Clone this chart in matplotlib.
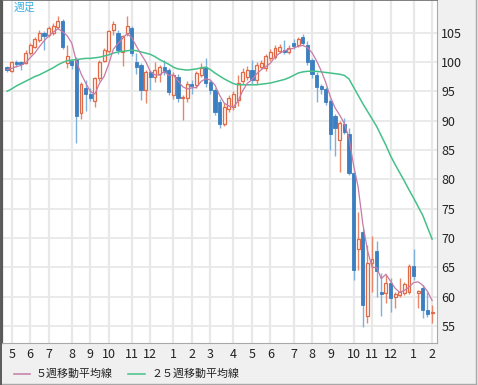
import matplotlib
matplotlib.use("Agg")
import matplotlib.pyplot as plt
from matplotlib.lines import Line2D
import numpy as np
import pandas as pd

plt.rcParams['font.family'] = ['Noto Sans CJK JP', 'DejaVu Sans']

# weekly candles, week index -1 .. 91 (week 0 = first week of May)
weeks = list(range(-1, 92))
opens = [99.1, 98.5, 100.0, 99.9, 99.8, 101.5, 102.6, 103.7, 105.0, 104.6,
         104.9, 106.0, 107.0, 99.8, 100.1, 100.5, 91.3, 95.6, 94.6, 93.4,
         97.2, 100.2, 101.8, 105.4, 104.9, 101.7, 104.9, 105.7, 100.0, 99.4,
         95.2, 98.3, 97.5, 97.9, 99.2, 98.7, 94.3, 97.5, 93.8, 93.8,
         96.2, 96.1, 97.8, 99.2, 96.6, 95.2, 93.2, 89.5, 92.0, 92.3,
         93.5, 96.7, 97.5, 98.6, 96.9, 99.1, 98.9, 100.6, 100.9, 101.9,
         102.1, 101.7, 103.2, 102.9, 104.2, 102.9, 100.3, 97.8, 95.9, 95.3,
         93.3, 90.8, 86.7, 89.4, 87.8, 81.0, 68.2, 71.0, 56.7, 65.7,
         67.8, 60.8, 60.6, 62.4, 60.0, 60.3, 60.7, 60.8, 65.2, 60.7,
         61.4, 57.8, 57.2]
highs = [99.3, 100.2, 100.4, 100.1, 102.0, 103.3, 104.2, 105.4, 105.3, 106.2,
         106.7, 107.8, 107.3, 102.9, 100.5, 100.8, 96.5, 97.0, 95.5, 97.5,
         100.3, 102.3, 105.5, 106.9, 105.5, 104.6, 107.9, 106.2, 101.5, 99.8,
         98.6, 98.7, 100.0, 99.4, 100.3, 99.0, 98.2, 98.0, 94.3, 96.8,
         97.0, 98.5, 99.8, 100.6, 97.0, 95.6, 93.6, 93.0, 94.3, 95.0,
         97.7, 98.9, 99.3, 100.4, 99.9, 100.3, 101.4, 102.2, 102.8, 103.0,
         103.7, 102.8, 103.9, 104.2, 104.8, 103.6, 100.6, 98.2, 96.3, 95.8,
         93.6, 91.2, 90.0, 90.4, 88.8, 81.2, 74.5, 71.5, 68.8, 70.3,
         69.4, 64.0, 63.7, 63.2, 60.8, 63.2, 62.5, 65.6, 68.2, 61.2,
         62.0, 60.8, 58.6]
lows = [98.3, 98.3, 99.2, 98.7, 99.6, 101.2, 102.3, 103.4, 102.1, 104.3,
        104.6, 105.6, 102.2, 98.9, 98.8, 86.1, 90.2, 91.7, 93.3, 92.3,
        96.8, 99.9, 101.5, 104.6, 101.4, 99.3, 104.5, 101.0, 98.0, 93.5,
        93.0, 95.2, 96.6, 96.6, 97.8, 94.3, 93.7, 93.2, 90.1, 93.2,
        94.5, 95.6, 97.5, 95.8, 94.6, 91.0, 88.8, 89.1, 91.5, 91.8,
        92.5, 96.3, 97.0, 96.2, 96.2, 98.8, 98.5, 100.1, 100.5, 101.5,
        101.3, 101.3, 102.2, 102.5, 102.9, 99.5, 97.3, 93.2, 94.5, 92.6,
        85.0, 84.0, 81.3, 87.8, 80.8, 62.8, 64.5, 54.9, 55.5, 60.8,
        60.0, 56.7, 59.0, 57.3, 58.0, 60.0, 60.3, 60.5, 62.8, 58.1,
        56.4, 56.6, 55.5]
closes = [98.6, 99.9, 99.6, 99.6, 101.6, 102.9, 103.9, 105.0, 104.5, 105.8,
          106.1, 106.9, 102.5, 101.0, 99.5, 90.8, 96.2, 94.6, 93.8, 97.2,
          100.0, 102.0, 105.2, 106.4, 102.0, 104.4, 106.2, 101.5, 99.2, 95.2,
          98.3, 97.5, 98.7, 99.1, 98.3, 94.9, 97.8, 93.8, 94.1, 96.3,
          95.9, 98.1, 99.0, 96.4, 95.2, 91.5, 89.5, 92.3, 93.9, 94.5,
          96.4, 98.3, 98.7, 96.9, 99.5, 99.8, 101.0, 101.7, 102.3, 102.6,
          101.7, 102.4, 102.7, 103.9, 103.3, 100.0, 98.0, 95.7, 95.3, 93.2,
          87.8, 88.8, 89.6, 88.1, 81.0, 64.5, 69.9, 58.5, 65.7, 66.4,
          64.3, 60.4, 62.3, 59.7, 60.4, 60.8, 62.1, 65.2, 63.5, 61.0,
          57.8, 57.0, 57.3]

# 5-week MA as read for the first weeks (earlier closes are off the chart)
ma5_head = [98.7, 98.9, 99.2, 99.4]
# 25-week MA, one value per week
ma25 = [95.0, 95.4, 95.9, 96.3, 96.7, 97.1, 97.5, 97.8, 98.2, 98.6,
        99.0, 99.5, 99.9, 100.2, 100.3, 100.4, 100.5, 100.6, 100.6, 100.7,
        100.8, 101.0, 101.2, 101.5, 101.7, 101.8, 101.9, 102.0, 101.9, 101.7,
        101.5, 101.3, 100.9, 100.4, 100.0, 99.6, 99.1, 98.8, 98.7, 98.6,
        98.7, 98.8, 99.0, 99.1, 98.7, 98.1, 97.6, 97.1, 96.7, 96.3,
        96.1, 96.1, 96.1, 96.1, 96.1, 96.2, 96.3, 96.4, 96.6, 96.8,
        97.0, 97.3, 97.7, 98.1, 98.3, 98.4, 98.4, 98.4, 98.3, 98.2,
        98.1, 98.0, 97.9, 97.7, 97.1, 95.7, 94.3, 92.9, 91.6, 90.3,
        89.0, 87.4, 85.8, 84.0, 82.5, 81.1, 79.7, 78.2, 76.8, 75.3,
        73.8, 71.8, 69.8]

month_weeks = [0, 4, 8, 13, 17, 21, 26, 30, 35, 39, 43, 48, 52, 56, 61, 65, 69, 74, 78, 82, 87, 91]
month_labels = ['5', '6', '7', '8', '9', '10', '11', '12', '1', '2', '3',
                '4', '5', '6', '7', '8', '9', '10', '11', '12', '1', '2']
price_ticks = [55, 60, 65, 70, 75, 80, 85, 90, 95, 100, 105]

df = pd.DataFrame({'w': weeks, 'o': opens, 'h': highs, 'l': lows, 'c': closes})
ma5 = df['c'].rolling(5).mean().to_numpy()
ma5[:len(ma5_head)] = ma5_head

W, H = 478, 385
fig = plt.figure(figsize=(W / 100, H / 100), dpi=100)
fig.patch.set_facecolor('#f0f0f0')

def fx(px):
    return px / W

def fy(py):
    return 1 - py / H

ax = fig.add_axes([fx(2), fy(343), fx(437) - fx(2), fy(0) - fy(343)])
ax.set_facecolor('white')
ax.set_xlim(-2.1, 92.06)
ax.set_ylim(52.1, 110.55)

for p in price_ticks:
    ax.axhline(p, color='#e8e8e8', lw=1.3, zorder=0)
for m in month_weeks:
    ax.axvline(m, color='#e8e8e8', lw=1.6, zorder=0)

up = df['c'] >= df['o']
red, red_wick = '#e06a48', '#e8866a'
blue, blue_wick = '#3b7fc0', '#7eb0dc'

ax.vlines(df['w'][up], df['l'][up], df['h'][up], color=red_wick, lw=1, zorder=2)
ax.vlines(df['w'][~up], df['l'][~up], df['h'][~up], color=blue_wick, lw=1, zorder=2)

body_lo = np.minimum(df['o'], df['c'])
body_h = np.maximum(np.abs(df['c'] - df['o']), 0.15)
ax.bar(df['w'][up], body_h[up], bottom=body_lo[up], width=0.62,
       facecolor='#fff6f2', edgecolor=red, lw=0.9, zorder=3)
ax.bar(df['w'][~up], body_h[~up], bottom=body_lo[~up], width=0.7,
       facecolor=blue, edgecolor=blue, lw=0.6, zorder=3)

ax.plot(df['w'], ma25, color='#45c08a', lw=1.1, zorder=4)
ax.plot(df['w'], ma5, color='#c67aa6', lw=0.9, zorder=5)

ax.text(0.027, 0.993, '週足', transform=ax.transAxes, ha='left', va='top',
        fontsize=7.8, color='#3aaee0')

ax.set_xticks(month_weeks)
ax.set_xticklabels(month_labels)
ax.set_yticks(price_ticks)
ax.set_yticklabels([str(p) for p in price_ticks])
ax.yaxis.tick_right()
ax.tick_params(axis='both', length=0, labelsize=9, colors='#222222')
ax.tick_params(axis='x', pad=3.5)
ax.tick_params(axis='y', pad=3)

ax.spines['left'].set_color('#5a5a5a')
ax.spines['left'].set_linewidth(1.6)
ax.spines['top'].set_color('#6a6a6a')
ax.spines['top'].set_linewidth(1.2)
ax.spines['right'].set_color('#a8a8a8')
ax.spines['bottom'].set_color('#a8a8a8')

# outer frame
fig.add_artist(Line2D([fx(476), fx(476)], [fy(0), fy(384)], color='#a8a8a8', lw=1))
fig.add_artist(Line2D([fx(0), fx(476)], [fy(384), fy(384)], color='#a8a8a8', lw=1))
fig.add_artist(Line2D([fx(0.6), fx(0.6)], [fy(0), fy(384)], color='#5a5a5a', lw=1.4))

# legend
fig.add_artist(Line2D([fx(14), fx(30)], [fy(374), fy(374)], color='#c67aa6', lw=1.1))
fig.text(fx(36), fy(374), '５週移動平均線', fontsize=7.9, va='center', ha='left', color='#222222')
fig.add_artist(Line2D([fx(128), fx(145)], [fy(374), fy(374)], color='#45c08a', lw=1.1))
fig.text(fx(151), fy(374), '２５週移動平均線', fontsize=7.9, va='center', ha='left', color='#222222')

fig.savefig('out.png', dpi=100, facecolor=fig.get_facecolor())
